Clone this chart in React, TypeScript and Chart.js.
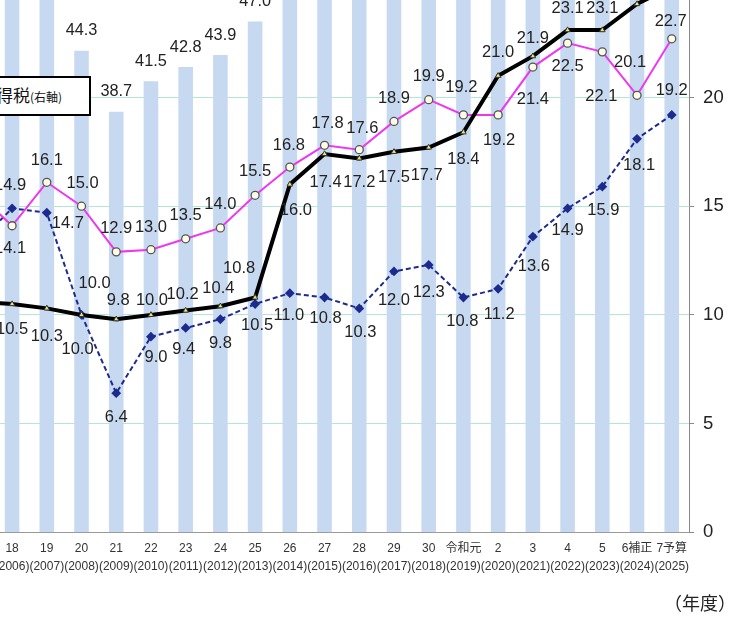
import React, { useEffect, useRef } from 'react';
import { Chart, registerables } from 'chart.js';

Chart.register(...registerables);

// fiscal year labels (era year / western year)
const eraLabels = ['17', '18', '19', '20', '21', '22', '23', '24', '25', '26', '27', '28', '29', '30', '令和元', '2', '3', '4', '5', '6補正', '7予算'];
const yearLabels = ['(2005)', '(2006)', '(2007)', '(2008)', '(2009)', '(2010)', '(2011)', '(2012)', '(2013)', '(2014)', '(2015)', '(2016)', '(2017)', '(2018)', '(2019)', '(2020)', '(2021)', '(2022)', '(2023)', '(2024)', '(2025)'];

// trillion yen
const totalTax = [49.1, 49.1, 51.0, 44.3, 38.7, 41.5, 42.8, 43.9, 47.0, 54.0, 56.3, 55.5, 58.8, 60.4, 58.4, 60.8, 67.0, 71.1, 72.1, 73.4, 78.4];
const consumptionTax = [10.6, 10.5, 10.3, 10.0, 9.8, 10.0, 10.2, 10.4, 10.8, 16.0, 17.4, 17.2, 17.5, 17.7, 18.4, 21.0, 21.9, 23.1, 23.1, 24.3, 25.1];
const incomeTax = [15.6, 14.1, 16.1, 15.0, 12.9, 13.0, 13.5, 14.0, 15.5, 16.8, 17.8, 17.6, 18.9, 19.9, 19.2, 19.2, 21.4, 22.5, 22.1, 20.1, 22.7];
const corporateTax = [13.3, 14.9, 14.7, 10.0, 6.4, 9.0, 9.4, 9.8, 10.5, 11.0, 10.8, 10.3, 12.0, 12.3, 10.8, 11.2, 13.6, 14.9, 15.9, 18.1, 19.2];

const rightTicks = [0, 5, 10, 15, 20, 25, 30];

// where each value label sits relative to its point (px)
const consumptionLabelPos = [[0, 25], [0, 25], [0, 28], [-4, 35], [2, -19], [1, -14], [-3, -16], [-2, -18], [-16, -29], [6, 26], [1, 28], [0, 24], [0, 26], [-2, 28], [0, 27], [0, -23], [0, -18], [0, -22], [0, -22], [0, -22], [0, -22]];
const incomeLabelPos = [[0, -23], [-2, 23], [0, -22], [1, -23], [0, -23], [0, -22], [0, -23], [0, -23], [0, -24], [-1, -22], [3, -22], [3, -21], [0, -23], [0, -23], [-2, -27], [1, 26], [0, 32], [0, 23], [-1, 45], [-7, -33], [-1, -17]];
const corporateLabelPos = [[0, -23], [-2, -23], [21, 11], [13, -31], [0, 24], [5, 21], [-2, 22], [0, 24], [2, 21], [-1, 22], [1, 21], [1, 24], [0, 29], [0, 28], [-1, 24], [1, 26], [1, 30], [0, 22], [1, 24], [2, 27], [0, -24]];
const barLabelPos = totalTax.map(() => [0, -20]);

const baseFont = '"Liberation Sans", "Noto Sans CJK JP", sans-serif';
const narrowFont = '"Liberation Sans Narrow", "Liberation Sans", sans-serif';

const valueLabels = {
  id: 'valueLabels',
  afterDatasetsDraw(chart: any) {
    const { ctx } = chart;
    const order = [3, 2, 1, 0];
    order.forEach((di) => {
      const ds = chart.data.datasets[di];
      const meta = chart.getDatasetMeta(di);
      ctx.save();
      ctx.font = ds.labelFont;
      ctx.fillStyle = '#222';
      ctx.textAlign = 'center';
      ctx.textBaseline = 'middle';
      meta.data.forEach((el: any, i: number) => {
        const [dx, dy] = ds.labelPos[i];
        ctx.fillText(Number(ds.data[i]).toFixed(1), el.x + dx, el.y + dy);
      });
      ctx.restore();
    });
  },
};

export default function App() {
  const canvasRef = useRef<HTMLCanvasElement>(null);
  const chartRef = useRef<Chart | null>(null);

  useEffect(() => {
    if (!canvasRef.current) return;
    if (chartRef.current) chartRef.current.destroy();
    Chart.defaults.font.family = baseFont;

    chartRef.current = new Chart(canvasRef.current, {
      type: 'bar',
      data: {
        labels: eraLabels.map((e, i) => [e, yearLabels[i]]),
        datasets: [
          {
            type: 'line',
            label: '消費税',
            data: consumptionTax,
            yAxisID: 'yR',
            borderColor: '#000',
            borderWidth: 4,
            tension: 0,
            pointStyle: 'triangle',
            pointRadius: 3.2,
            pointBackgroundColor: '#eee56a',
            pointBorderColor: '#333',
            pointBorderWidth: 1,
            order: 1,
            labelPos: consumptionLabelPos,
            labelFont: `16.5px ${narrowFont}`,
          } as any,
          {
            type: 'line',
            label: '所得税',
            data: incomeTax,
            yAxisID: 'yR',
            borderColor: '#ee38ee',
            borderWidth: 2,
            tension: 0,
            pointStyle: 'circle',
            pointRadius: 4,
            pointBackgroundColor: '#fffde6',
            pointBorderColor: '#555',
            pointBorderWidth: 1.3,
            order: 2,
            labelPos: incomeLabelPos,
            labelFont: `16.5px ${narrowFont}`,
          } as any,
          {
            type: 'line',
            label: '法人税',
            data: corporateTax,
            yAxisID: 'yR',
            borderColor: '#1d2b8f',
            borderWidth: 2,
            borderDash: [5, 3],
            tension: 0,
            pointStyle: 'rectRot',
            pointRadius: 3.5,
            pointBackgroundColor: '#1d2b8f',
            pointBorderColor: '#1d2b8f',
            order: 3,
            labelPos: corporateLabelPos,
            labelFont: `16.5px ${narrowFont}`,
          } as any,
          {
            type: 'bar',
            label: '税収',
            data: totalTax,
            yAxisID: 'yL',
            backgroundColor: '#c6d9f0',
            barPercentage: 0.42,
            categoryPercentage: 1,
            order: 4,
            labelPos: barLabelPos,
            labelFont: `16.3px ${baseFont}`,
          } as any,
        ],
      },
      options: {
        responsive: false,
        animation: false,
        layout: { padding: { left: 20, top: 18.9, right: 0, bottom: 0 } },
        plugins: { legend: { display: false }, tooltip: { enabled: false } },
        scales: {
          x: {
            type: 'category',
            offset: true,
            grid: { display: false, drawTicks: false },
            border: { display: true, color: '#999', width: 1 },
            ticks: {
              autoSkip: false,
              maxRotation: 0,
              minRotation: 0,
              padding: 7,
              color: '#333',
              font: { size: 12, lineHeight: 1.5 },
            },
            afterFit: (s: any) => {
              s.height = 87.7;
            },
          },
          yL: { display: false, position: 'left', min: 0, max: 60 },
          yR: {
            position: 'right',
            min: 0,
            max: 30,
            afterBuildTicks: (s: any) => {
              s.ticks = rightTicks.map((v) => ({ value: v }));
            },
            grid: {
              color: (c: any) => (c.tick && c.tick.value === 0 ? 'rgba(0,0,0,0)' : '#b4e6d6'),
              lineWidth: 1,
              drawTicks: true,
              tickLength: 5,
              tickColor: '#888',
            },
            border: { display: true, color: '#888', width: 1 },
            ticks: { padding: 9, color: '#222', font: { family: narrowFont, size: 18.5 } },
            afterFit: (s: any) => {
              s.width = 60.9;
            },
          },
        },
      },
      plugins: [valueLabels],
    });

    return () => {
      if (chartRef.current) {
        chartRef.current.destroy();
        chartRef.current = null;
      }
    };
  }, []);

  return (
    <div style={{ position: 'fixed', left: 0, top: 0, width: 752, height: 628, overflow: 'hidden', background: '#fff' }}>
      <canvas
        ref={canvasRef}
        width={810}
        height={760}
        style={{ position: 'absolute', left: -60, top: -140, width: 810, height: 760 }}
      />
      <div
        style={{
          position: 'absolute',
          left: -40,
          top: 76,
          width: 131,
          height: 40,
          boxSizing: 'border-box',
          border: '2px solid #000',
          background: '#fff',
          paddingLeft: 17,
          display: 'flex',
          alignItems: 'center',
          fontFamily: '"Noto Sans CJK JP", sans-serif',
          color: '#111',
          whiteSpace: 'nowrap',
        }}
      >
        <span style={{ fontSize: 17, lineHeight: '20px' }}>
          所得税<span style={{ fontSize: 12 }}>(右軸)</span>
        </span>
      </div>
      <div
        style={{
          position: 'absolute',
          left: 664,
          top: 589,
          fontSize: 18,
          lineHeight: '26px',
          fontFamily: '"Noto Sans CJK JP", sans-serif',
          color: '#222',
          whiteSpace: 'nowrap',
        }}
      >
        （年度）
      </div>
    </div>
  );
}
